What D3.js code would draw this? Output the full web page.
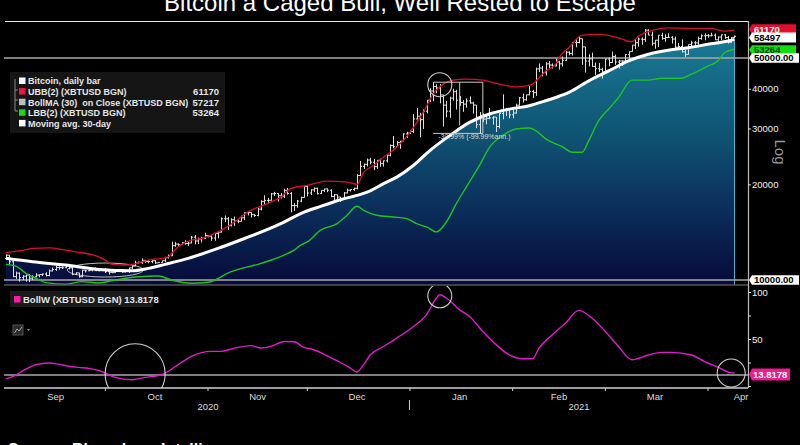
<!DOCTYPE html>
<html><head><meta charset="utf-8">
<script src="https://cdn.jsdelivr.net/npm/d3@7"></script>
<style>body{margin:0;background:#000;overflow:hidden}svg{display:block}text{font-family:"Liberation Sans",Arial,sans-serif;white-space:pre}</style>
</head><body>
<svg id="c" width="800" height="445"></svg>
<script>
// ---------- DATA (prices in thousands USD) ----------
const titleText = "Bitcoin a Caged Bull, Well Rested to Escape";
const sourceText = "Source: Bloomberg Intelligence";
const barStart = "2020-09-01";
const barOpen = [
11.68,11.97,11.41,10.25,10.51,10.17,10.28,10.37,10.13,10.23,10.36,10.40,10.44,10.33,10.68,10.79,10.95,10.94,10.93,11.08,10.92,10.42,10.53,10.24,10.74,10.69,10.73,10.77,10.69,10.84,
10.78,10.62,10.57,10.55,10.67,10.79,10.60,10.67,10.92,11.06,11.30,11.38,11.54,11.43,11.43,11.50,11.32,11.36,11.50,11.75,11.92,12.82,12.97,12.93,13.12,13.03,13.07,13.64,13.27,13.46,13.56,
13.80,13.74,13.55,14.02,14.15,15.59,15.58,14.83,15.48,15.33,15.30,15.70,16.28,16.32,16.07,15.96,16.72,17.66,17.80,17.82,18.68,18.72,18.42,18.37,19.16,18.73,17.15,17.14,17.72,18.18,
19.70,18.79,19.22,19.44,18.70,19.15,19.36,19.17,18.32,18.55,18.25,18.04,18.80,19.17,19.27,19.44,21.34,22.80,23.13,23.86,23.48,22.74,23.82,23.24,23.73,24.71,26.49,26.28,27.08,27.36,28.84,
29.00,29.37,32.13,32.78,31.97,34.00,36.82,39.37,40.67,40.24,38.24,35.54,34.01,37.39,39.16,36.83,36.18,35.79,36.63,36.07,35.55,30.83,33.01,32.10,32.29,32.37,32.57,30.43,33.47,34.32,34.32,
33.11,33.54,35.51,37.47,36.93,38.29,39.26,38.90,46.20,46.48,44.92,47.91,47.50,47.19,48.59,47.93,49.17,52.15,51.68,55.89,55.92,57.49,54.21,48.90,49.69,47.05,46.28,46.06,
45.14,49.63,48.38,50.54,48.56,48.93,48.91,51.21,52.38,54.88,55.86,57.33,57.23,61.19,59.02,55.63,56.90,58.93,57.64,58.03,58.10,57.35,54.08,54.34,52.30,51.30,55.19,55.83,55.78,57.63,58.73,
58.80,58.73,58.97,57.06,58.20,59.13,57.99,56.00,58.09];
const barHigh = [
12.05,11.98,11.47,10.63,10.56,10.35,10.40,10.44,10.35,10.50,10.40,10.48,10.58,10.80,10.94,11.09,11.04,11.04,11.15,11.08,10.99,10.58,10.53,10.77,10.77,10.80,10.80,10.95,10.86,10.84,
10.91,10.66,10.59,10.70,10.80,10.80,10.68,10.94,11.10,11.49,11.43,11.70,11.56,11.56,11.54,11.53,11.40,11.50,11.83,12.03,13.20,13.18,13.03,13.16,13.34,13.25,13.76,13.86,13.61,13.67,14.09,
13.86,13.82,14.07,14.24,15.74,15.96,15.77,15.65,15.84,15.47,15.95,16.33,16.47,16.32,16.13,16.87,17.84,18.48,18.14,18.80,18.95,18.75,18.77,19.38,19.48,18.92,17.45,17.86,18.30,19.80,
19.92,19.31,19.57,19.53,19.17,19.40,19.42,19.29,18.64,18.56,18.27,18.92,19.40,19.31,19.53,21.53,23.70,23.26,24.13,24.25,24.07,23.82,24.10,23.79,24.77,26.72,28.40,27.39,27.41,28.94,29.30,
29.60,33.30,34.78,33.60,34.44,36.88,40.18,41.95,41.35,41.42,38.26,36.63,37.75,40.00,39.70,37.95,36.85,37.30,37.85,36.42,35.55,33.81,33.45,32.94,34.80,32.79,32.58,33.72,38.41,34.83,34.38,
34.70,35.90,37.66,38.59,38.31,40.85,39.70,46.65,48.08,47.22,48.50,48.89,48.07,49.69,49.00,50.53,52.55,52.51,56.16,57.50,58.35,57.53,54.21,51.35,52.00,48.37,48.26,46.60,
49.75,50.17,52.37,51.27,49.37,49.20,51.42,52.40,54.88,57.26,57.98,58.05,61.68,61.59,60.53,56.94,58.97,60.03,59.44,59.83,58.56,58.41,55.80,57.20,53.23,55.07,56.59,56.55,58.40,59.37,59.80,
59.46,60.04,59.71,58.47,59.26,59.46,58.63,58.14,58.89];
const barLow = [
11.57,11.20,10.20,10.08,9.88,10.01,9.88,9.85,10.01,10.20,10.20,10.30,10.25,10.27,10.64,10.69,10.77,10.83,10.90,10.80,10.36,10.37,10.17,10.20,10.56,10.66,10.64,10.68,10.65,10.67,
10.52,10.40,10.50,10.54,10.63,10.54,10.56,10.53,10.84,11.06,11.29,11.23,11.32,11.30,11.29,11.23,11.32,11.34,11.40,11.69,11.90,12.72,12.73,12.89,12.91,12.80,13.06,12.95,12.99,13.13,13.46,
13.62,13.29,13.29,13.53,14.10,15.21,14.38,14.75,14.81,15.09,15.28,15.44,15.97,15.73,15.80,15.87,16.56,17.22,17.38,17.78,18.37,17.66,18.06,18.15,18.56,16.33,16.51,16.88,17.57,18.18,
18.33,18.52,18.92,18.59,18.65,18.92,18.90,18.23,17.66,17.94,17.61,18.02,18.74,19.00,19.08,19.29,21.23,22.35,22.78,23.10,22.16,22.38,22.72,22.74,23.44,24.53,25.98,26.25,25.88,27.36,28.03,
28.80,29.00,32.05,28.13,29.90,33.50,36.36,36.57,38.73,35.98,30.42,32.53,32.40,36.70,34.41,35.36,33.85,34.85,35.90,33.40,30.07,28.95,31.40,30.91,32.06,30.84,29.24,30.01,32.06,32.83,32.30,
32.30,33.43,35.38,36.20,36.65,38.15,37.45,37.99,45.13,43.77,44.02,46.40,46.30,47.07,45.99,47.03,48.99,50.95,50.88,54.01,55.60,47.60,45.00,47.06,46.89,44.20,45.17,43.06,
45.02,47.12,48.34,47.58,46.34,47.20,48.90,49.55,52.38,53.35,54.27,55.08,56.19,58.97,54.65,53.47,54.12,57.06,56.29,57.85,55.50,53.72,53.01,52.01,50.43,51.30,54.03,54.69,55.00,57.04,56.87,
57.89,58.51,56.98,56.65,56.98,57.43,55.47,55.83,57.70];
const barClose = [
11.97,11.41,10.25,10.51,10.17,10.28,10.37,10.13,10.23,10.36,10.40,10.44,10.33,10.68,10.79,10.95,10.94,10.93,11.08,10.92,10.42,10.53,10.24,10.74,10.69,10.73,10.77,10.69,10.84,10.78,
10.62,10.57,10.55,10.67,10.79,10.60,10.67,10.92,11.06,11.30,11.38,11.54,11.43,11.43,11.50,11.32,11.36,11.50,11.75,11.92,12.82,12.97,12.93,13.12,13.03,13.07,13.64,13.27,13.46,13.56,13.80,
13.74,13.55,14.02,14.15,15.59,15.58,14.83,15.48,15.33,15.30,15.70,16.28,16.32,16.07,15.96,16.72,17.66,17.80,17.82,18.68,18.72,18.42,18.37,19.16,18.73,17.15,17.14,17.72,18.18,19.70,
18.79,19.22,19.44,18.70,19.15,19.36,19.17,18.32,18.55,18.25,18.04,18.80,19.17,19.27,19.44,21.34,22.80,23.13,23.86,23.48,22.74,23.82,23.24,23.73,24.71,26.49,26.28,27.08,27.36,28.84,29.00,
29.37,32.13,32.78,31.97,34.00,36.82,39.37,40.67,40.24,38.24,35.54,34.01,37.39,39.16,36.83,36.18,35.79,36.63,36.07,35.55,30.83,33.01,32.10,32.29,32.37,32.57,30.43,33.47,34.32,34.32,33.11,
33.54,35.51,37.47,36.93,38.29,39.26,38.90,46.20,46.48,44.92,47.91,47.50,47.19,48.59,47.93,49.17,52.15,51.68,55.89,55.92,57.49,54.21,48.90,49.69,47.05,46.28,46.06,45.14,
49.63,48.38,50.54,48.56,48.93,48.91,51.21,52.38,54.88,55.86,57.33,57.23,61.19,59.02,55.63,56.90,58.93,57.64,58.03,58.10,57.35,54.08,54.34,52.30,51.30,55.19,55.83,55.78,57.63,58.73,58.80,
58.73,58.97,57.06,58.20,59.13,57.99,56.00,58.09,58.50];

const ubbDates = ["2020-09-01","2020-09-05","2020-09-09","2020-09-14","2020-09-19","2020-09-22","2020-09-29","2020-10-01","2020-10-03","2020-10-07","2020-10-09","2020-10-14","2020-10-20","2020-10-21","2020-10-23","2020-10-27","2020-10-30","2020-11-05","2020-11-09","2020-11-13","2020-11-19","2020-11-23","2020-11-26","2020-12-01","2020-12-07","2020-12-13","2020-12-16","2020-12-18","2020-12-21","2020-12-24","2020-12-28","2021-01-01","2021-01-05","2021-01-08","2021-01-11","2021-01-14","2021-01-18","2021-01-23","2021-01-28","2021-02-02","2021-02-05","2021-02-07","2021-02-09","2021-02-11","2021-02-14","2021-02-15","2021-02-18","2021-02-22","2021-02-27","2021-03-05","2021-03-09","2021-03-11","2021-03-15","2021-03-20","2021-03-27","2021-04-02","2021-04-06","2021-04-09"];
const ubbValues = [12.21,12.35,12.57,12.63,12.42,12.27,11.83,11.55,11.20,11.14,11.20,11.55,11.83,12.12,12.72,13.35,13.51,14.35,15.23,16.37,17.40,18.24,19.39,19.86,20.48,20.33,20.00,21.81,22.94,24.35,26.17,29.17,33.70,38.49,41.37,42.58,42.89,42.58,41.37,40.57,40.87,41.37,43.38,45.53,47.79,50.12,53.87,59.04,59.34,57.90,56.26,58.61,61.07,62.23,61.97,61.97,60.76,61.17];

const maDates = ["2020-09-01","2020-09-09","2020-09-19","2020-09-29","2020-10-09","2020-10-14","2020-10-19","2020-10-26","2020-11-04","2020-11-12","2020-11-23","2020-11-29","2020-12-05","2020-12-11","2020-12-17","2020-12-20","2020-12-24","2020-12-28","2021-01-02","2021-01-07","2021-01-13","2021-01-19","2021-01-25","2021-01-31","2021-02-06","2021-02-11","2021-02-14","2021-02-18","2021-02-24","2021-03-02","2021-03-08","2021-03-14","2021-03-20","2021-03-26","2021-04-01","2021-04-07","2021-04-09"];
const maValues = [11.70,11.41,11.14,10.80,10.69,10.88,11.20,11.70,12.57,13.51,15.05,16.19,17.06,17.90,18.60,19.09,20.10,21.08,22.94,25.56,28.48,31.35,33.31,34.52,35.38,36.67,37.55,38.94,42.36,45.53,48.94,51.36,52.87,53.87,55.21,56.54,57.217];

const lbbDates = ["2020-09-01","2020-09-04","2020-09-07","2020-09-10","2020-09-13","2020-09-19","2020-09-24","2020-09-29","2020-10-04","2020-10-11","2020-10-17","2020-10-21","2020-10-27","2020-11-01","2020-11-08","2020-11-17","2020-11-24","2020-11-27","2020-11-29","2020-12-01","2020-12-05","2020-12-10","2020-12-13","2020-12-16","2020-12-18","2020-12-22","2020-12-27","2020-12-31","2021-01-03","2021-01-06","2021-01-09","2021-01-12","2021-01-15","2021-01-18","2021-01-22","2021-01-25","2021-01-29","2021-02-02","2021-02-06","2021-02-08","2021-02-11","2021-02-14","2021-02-16","2021-02-19","2021-02-22","2021-02-24","2021-02-27","2021-03-02","2021-03-05","2021-03-09","2021-03-14","2021-03-18","2021-03-24","2021-03-27","2021-04-01","2021-04-04","2021-04-06","2021-04-09"];
const lbbValues = [11.20,11.06,10.50,10.12,9.81,9.70,9.88,9.79,10.00,10.24,10.29,10.00,9.77,9.84,10.62,11.28,11.98,12.42,12.88,13.18,14.35,15.05,15.99,17.06,16.57,15.99,15.79,15.61,15.05,14.69,14.17,15.23,17.40,19.61,22.94,26.17,28.48,29.89,30.11,29.53,27.82,26.83,26.30,25.25,25.25,27.47,31.74,34.53,37.55,42.58,42.58,43.19,43.19,44.46,47.21,48.94,51.95,53.264];

const bollwDates = ["2020-09-01","2020-09-03","2020-09-07","2020-09-10","2020-09-14","2020-09-17","2020-09-20","2020-09-23","2020-09-26","2020-09-29","2020-10-02","2020-10-04","2020-10-09","2020-10-13","2020-10-18","2020-10-23","2020-10-27","2020-11-02","2020-11-05","2020-11-08","2020-11-14","2020-11-17","2020-11-20","2020-11-24","2020-11-27","2020-11-30","2020-12-03","2020-12-07","2020-12-11","2020-12-14","2020-12-16","2020-12-18","2020-12-20","2020-12-24","2020-12-28","2021-01-02","2021-01-06","2021-01-09","2021-01-10","2021-01-12","2021-01-16","2021-01-19","2021-01-23","2021-01-27","2021-01-31","2021-02-04","2021-02-07","2021-02-09","2021-02-13","2021-02-17","2021-02-21","2021-02-25","2021-03-01","2021-03-05","2021-03-09","2021-03-14","2021-03-18","2021-03-21","2021-03-27","2021-03-31","2021-04-04","2021-04-08","2021-04-09"];
const bollwValues = [7.6,10,18,22.7,24.5,23,21,19.8,18.7,16.6,12,9.2,6.7,9.2,12,22.7,31.5,36.8,36.8,39.4,42.9,40.4,42.1,47.4,47,41,38.6,32,25,19,14.9,22.7,33,42,51,63,76,93.6,97,93.6,81,74,58,44,33,29,29,40.4,54.6,67,80.4,72,58,42,28,33,35.8,35.8,33,26,20,14,13.8178];

const legendNames = ["Bitcoin, daily bar","UBB(2) (XBTUSD BGN)","BollMA (30)  on Close (XBTUSD BGN)","LBB(2) (XBTUSD BGN)","Moving avg. 30-day"];
const legendValues = ["","61170","57217","53264",""];
const legendColors = ["#ffffff","#e8173c","#bdbdbd","#19d919","#ffffff"];
const lastValues = {ubb:61.17, last:58.497, lbb:53.264};
const priceTicks = [20,30,40];
const priceTickLabels = ["20000","30000","40000"];
const refLines = [50,10];
const refLabels = ["50000.00","10000.00"];
const bollwTicks = [100,75,50,25,0];
const bollwTickLabels = ["100","","50","",""];
const monthTickDates = ["2020-10-01","2020-11-01","2020-12-01","2021-01-01","2021-02-01","2021-03-01","2021-04-01"];
const monthLabelDates = ["2020-09-16","2020-10-16","2020-11-16","2020-12-16","2021-01-16","2021-02-15","2021-03-16","2021-04-11"];
const monthLabels = ["Sep","Oct","Nov","Dec","Jan","Feb","Mar","Apr"];
const yearLabels = ["2020","2021"];
const bollwLast = 13.8178;

// ---------- SETUP ----------
const parse = d3.timeParse("%Y-%m-%d");
const svg = d3.select("#c");
const W = 800, H = 445;
const plotL = 4, plotR = 748, topT = 22, topB = 285, botT = 286, botB = 388;

const x = d3.scaleTime().domain([parse("2020-09-01"), parse("2021-04-01")]).range([6, 708]);
const yP = d3.scaleLog().domain([10, 50]).range([280, 58]);
const yW = d3.scaleLinear().domain([0, 100]).range([386, 292]);

const start = parse(barStart);
const bars = barClose.map((c, i) => ({d: d3.timeDay.offset(start, i), o: barOpen[i], h: barHigh[i], l: barLow[i], c}));
const mk = (ds, vs) => ds.map((d, i) => ({d: parse(d), v: vs[i]}));
const ubb = mk(ubbDates, ubbValues), ma = mk(maDates, maValues), lbb = mk(lbbDates, lbbValues), bw = mk(bollwDates, bollwValues);

const defs = svg.append("defs");
defs.append("clipPath").attr("id", "ct").append("rect").attr("x", plotL).attr("y", topT).attr("width", plotR - plotL).attr("height", topB - topT);
defs.append("clipPath").attr("id", "cb").append("rect").attr("x", plotL).attr("y", botT).attr("width", plotR - plotL).attr("height", botB - botT);
const grad = defs.append("linearGradient").attr("id", "fillg").attr("gradientUnits", "userSpaceOnUse")
  .attr("x1", 0).attr("x2", 0).attr("y1", 285).attr("y2", 35);
[[0, "#060a3a"], [0.28, "#0b2b58"], [0.6, "#0f5373"], [1, "#1a7b95"]].forEach(s => grad.append("stop").attr("offset", s[0]).attr("stop-color", s[1]));

svg.append("rect").attr("width", W).attr("height", H).attr("fill", "#000");

// title
svg.append("text").attr("x", 400).attr("y", 11).attr("text-anchor", "middle").attr("fill", "#fff")
  .style("font-size", "24px").text(titleText);
svg.append("line").attr("x1", 5).attr("x2", plotR).attr("y1", 21.5).attr("y2", 21.5).attr("stroke", "#e6e6e6").attr("stroke-width", 1.2);

// ---------- TOP PANEL ----------
const gt = svg.append("g").attr("clip-path", "url(#ct)");
const xl = ma[ma.length - 1].d;
gt.append("path").datum(ma).attr("fill", "url(#fillg)")
  .attr("d", d3.area().x(d => x(d.d)).y0(topB).y1(d => yP(d.v)).curve(d3.curveMonotoneX));
gt.append("line").attr("x1", x(xl)).attr("x2", x(xl)).attr("y1", yP(maValues[maValues.length - 1])).attr("y2", topB)
  .attr("stroke", "#49b6d6").attr("stroke-width", 1);

// reference lines
refLines.forEach(v => gt.append("line").attr("x1", plotL).attr("x2", plotR).attr("y1", yP(v)).attr("y2", yP(v))
  .attr("stroke", "#a8a8a8").attr("stroke-width", 1.6));

// ellipse annotation
gt.append("ellipse").attr("cx", x(parse("2020-10-01"))).attr("cy", yP(10.75)).attr("rx", 38).attr("ry", 7)
  .attr("fill", "none").attr("stroke", "#bbb").attr("stroke-width", 1);

// bars
const bg = gt.append("g").attr("stroke", "#dedede").attr("stroke-width", 1);
bars.forEach(b => {
  const cx = Math.round(x(b.d)) + 0.5;
  bg.append("line").attr("x1", cx).attr("x2", cx).attr("y1", yP(b.h)).attr("y2", yP(b.l));
  bg.append("line").attr("x1", cx - 1.5).attr("x2", cx).attr("y1", yP(b.o)).attr("y2", yP(b.o));
  bg.append("line").attr("x1", cx).attr("x2", cx + 1.5).attr("y1", yP(b.c)).attr("y2", yP(b.c));
});

const lineP = d3.line().x(d => x(d.d)).y(d => yP(d.v)).curve(d3.curveMonotoneX);
gt.append("path").datum(lbb).attr("fill", "none").attr("stroke", "#1fc41f").attr("stroke-width", 1.4).attr("d", lineP);
gt.append("path").datum(ubb).attr("fill", "none").attr("stroke", "#d4102e").attr("stroke-width", 1.3).attr("d", lineP);
gt.append("path").datum(ma).attr("fill", "none").attr("stroke", "#fff").attr("stroke-width", 3).attr("d", lineP);

// drawdown measure annotation
const mA = x(parse("2021-01-08")), mM = x(parse("2021-01-16")), mB = x(parse("2021-01-23"));
const mHi = yP(41.95), mLo = yP(28.95);
const ann = gt.append("g").attr("stroke", "#c8c8c8").attr("stroke-width", 1);
ann.append("line").attr("x1", mA).attr("x2", mB).attr("y1", mHi).attr("y2", mHi);
ann.append("line").attr("x1", mM).attr("x2", mM).attr("y1", mHi).attr("y2", mLo - 8);
ann.append("line").attr("x1", mB).attr("x2", mB).attr("y1", mHi).attr("y2", mLo);
ann.append("line").attr("x1", mA).attr("x2", mB).attr("y1", mLo).attr("y2", mLo);
gt.append("text").attr("x", mA + 5).attr("y", mLo + 6).attr("fill", "#d8d8d8").style("font-size", "7px")
  .text("-30.99% (-99.99%ann.)");
gt.append("circle").attr("cx", x(parse("2021-01-10"))).attr("cy", yP(41.2)).attr("r", 12)
  .attr("fill", "none").attr("stroke", "#cfcfcf").attr("stroke-width", 1.1);

// panel separator
svg.append("line").attr("x1", plotL).attr("x2", plotR).attr("y1", 285).attr("y2", 285).attr("stroke", "#555").attr("stroke-width", 1.5);

// legend top
const lg = svg.append("g");
lg.append("rect").attr("x", 10).attr("y", 72).attr("width", 215).attr("height", 61).attr("fill", "#151515");
lg.append("path").attr("d", "M15,79V111M15,90H18M15,100H18M15,111H18").attr("stroke", "#888").attr("fill", "none");
legendNames.forEach((n, i) => {
  const yy = 81 + i * 10.6;
  lg.append("rect").attr("x", 19).attr("y", yy - 3.5).attr("width", 6.5).attr("height", 6.5).attr("fill", legendColors[i]);
  lg.append("text").attr("x", 28).attr("y", yy + 3.3).attr("fill", "#e6e6e6").style("font-size", "9px").style("font-weight", "bold").text(n);
  if (legendValues[i]) lg.append("text").attr("x", 219).attr("y", yy + 3.3).attr("text-anchor", "end").attr("fill", "#e6e6e6")
    .style("font-size", "9.5px").style("font-weight", "bold").text(legendValues[i]);
});

// right axis top
svg.append("line").attr("x1", plotR + 0.5).attr("x2", plotR + 0.5).attr("y1", 21).attr("y2", botB).attr("stroke", "#bbb").attr("stroke-width", 1.2);
const ax = svg.append("g").attr("transform", `translate(${plotR},0)`)
  .call(d3.axisRight(yP).tickValues(priceTicks).tickFormat((d, i) => priceTickLabels[i]).tickSize(3).tickPadding(1));
ax.select(".domain").remove();
ax.selectAll("line").attr("stroke", "#ddd");
ax.selectAll("text").attr("fill", "#f2f2f2").style("font-size", "9.5px").style("font-family", "Liberation Sans, Arial, sans-serif");

svg.append("text").attr("transform", "translate(775,152) rotate(90)").attr("text-anchor", "middle")
  .attr("fill", "#9a9a9a").style("font-size", "15px").text("Log");

function tag(yc, txt, bgc, fg, w, h) {
  const g = svg.append("g");
  g.append("path").attr("d", `M${plotR + 1},${yc} L${plotR + 4},${yc - h / 2} H${plotR + 4 + w} V${yc + h / 2} H${plotR + 4} Z`).attr("fill", bgc);
  g.append("text").attr("x", plotR + 6).attr("y", yc + 3.4).attr("fill", fg).style("font-size", "9.5px").style("font-weight", "bold").text(txt);
}
tag(yP(lastValues.ubb) - 1, "61170", "#e0102c", "#fff", 44, 10);
tag(yP(lastValues.lbb) + 0.5, "53264", "#11dd11", "#0a3a0a", 44, 9);
tag(yP(lastValues.last) + 1.2, "58497", "#ffffff", "#000", 44, 10);
refLines.forEach((v, i) => tag(yP(v), refLabels[i], "#ffffff", "#000", 47, 9.5));

// ---------- BOTTOM PANEL ----------
const gb = svg.append("g").attr("clip-path", "url(#cb)");
gb.append("line").attr("x1", plotL).attr("x2", plotR).attr("y1", yW(bollwLast) + 2).attr("y2", yW(bollwLast) + 2).attr("stroke", "#a8a8a8").attr("stroke-width", 1.6);
gb.append("path").datum(bw).attr("fill", "none").attr("stroke", "#e21ccd").attr("stroke-width", 1.4)
  .attr("d", d3.line().x(d => x(d.d)).y(d => yW(d.v)).curve(d3.curveMonotoneX));
[["2020-10-10", 13, 30], ["2021-04-08", 13.8, 14], ["2021-01-10", 96, 12]].forEach(c =>
  gb.append("circle").attr("cx", x(parse(c[0]))).attr("cy", yW(c[1])).attr("r", c[2]).attr("fill", "none").attr("stroke", "#cfcfcf").attr("stroke-width", 1.1));

svg.append("rect").attr("x", 10).attr("y", 291).attr("width", 143).attr("height", 16).attr("fill", "#1a1a1a");
svg.append("rect").attr("x", 14).attr("y", 296).attr("width", 6.5).attr("height", 6.5).attr("fill", "#ff1aa3");
svg.append("text").attr("x", 23).attr("y", 302.5).attr("fill", "#e6e6e6").style("font-size", "9.5px").style("font-weight", "bold")
  .text("BollW (XBTUSD BGN) " + bollwLast.toFixed(4));
svg.append("rect").attr("x", 13).attr("y", 325).attr("width", 10).attr("height", 10).attr("fill", "#2a2a2a").attr("stroke", "#555");
svg.append("path").attr("d", "M14.5,333 L17,329 L19,331 L22,327").attr("stroke", "#aaa").attr("fill", "none");
svg.append("path").attr("d", "M27,329 h3 l-1.5,2 z").attr("fill", "#999");

const axb = svg.append("g").attr("transform", `translate(${plotR},0)`)
  .call(d3.axisRight(yW).tickValues(bollwTicks).tickFormat((d, i) => bollwTickLabels[i]).tickSize(3).tickPadding(1));
axb.select(".domain").remove();
axb.selectAll("line").attr("stroke", "#ddd");
axb.selectAll("text").attr("fill", "#f2f2f2").style("font-size", "9.5px").style("font-family", "Liberation Sans, Arial, sans-serif");

const ty = yW(bollwLast) + 1.5;
svg.append("path").attr("d", `M${plotR + 1},${ty} L${plotR + 4},${ty - 6} H${plotR + 42} V${ty + 6} H${plotR + 4} Z`).attr("fill", "#ec1c8c");
svg.append("text").attr("x", plotR + 5).attr("y", ty + 3.5).attr("fill", "#fff").style("font-size", "9.5px").style("font-weight", "bold").text(bollwLast.toFixed(4));

// x axis
svg.append("line").attr("x1", plotL).attr("x2", plotR).attr("y1", botB).attr("y2", botB).attr("stroke", "#cfcfcf").attr("stroke-width", 1.3);
monthTickDates.forEach(d => svg.append("line").attr("x1", x(parse(d))).attr("x2", x(parse(d))).attr("y1", botB).attr("y2", botB + 3).attr("stroke", "#cfcfcf"));
monthLabelDates.forEach((d, i) => svg.append("text").attr("x", x(parse(d))).attr("y", 399.5).attr("text-anchor", "middle")
  .attr("fill", "#dcdcdc").style("font-size", "9.5px").text(monthLabels[i]));
const jan1 = x(parse("2021-01-01"));
svg.append("line").attr("x1", jan1 - 0.5).attr("x2", jan1 - 0.5).attr("y1", 400).attr("y2", 410).attr("stroke", "#cfcfcf");
svg.append("text").attr("x", (x(start) + jan1) / 2).attr("y", 409.5).attr("text-anchor", "middle").attr("fill", "#dcdcdc").style("font-size", "9.5px").text(yearLabels[0]);
svg.append("text").attr("x", (jan1 + plotR) / 2).attr("y", 409.5).attr("text-anchor", "middle").attr("fill", "#dcdcdc").style("font-size", "9.5px").text(yearLabels[1]);

svg.append("text").attr("x", 8).attr("y", 455).attr("fill", "#fff").style("font-size", "16px").style("font-weight", "bold").text(sourceText);
</script>
</body></html>
